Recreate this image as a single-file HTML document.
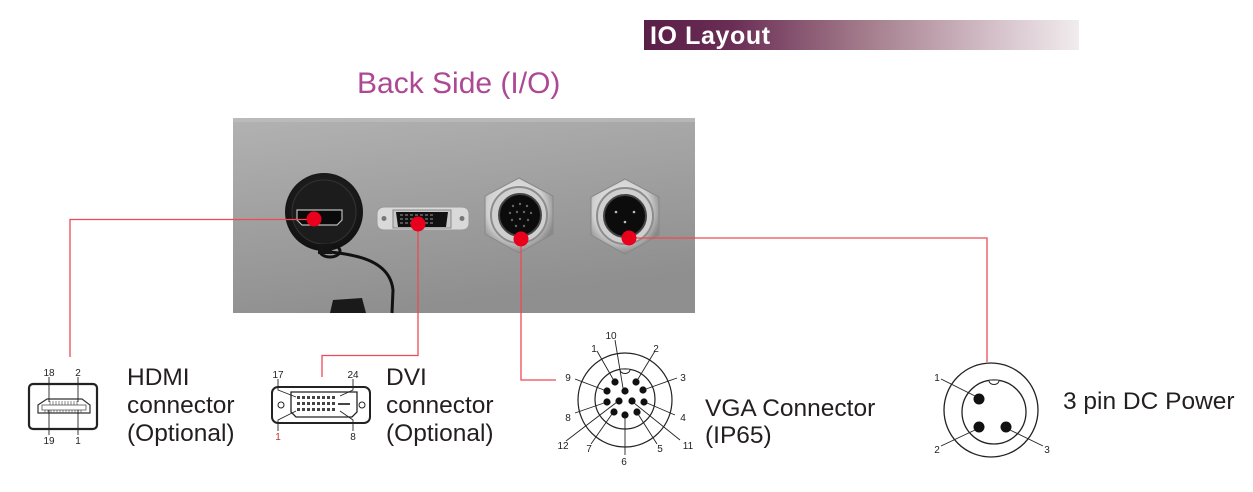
<!DOCTYPE html>
<html><head><meta charset="utf-8"><style>
html,body{margin:0;padding:0;background:#fff;}
svg{display:block;}
text{font-family:"Liberation Sans",Arial,sans-serif;}
</style></head><body>
<svg width="1253" height="492" viewBox="0 0 1253 492" xmlns="http://www.w3.org/2000/svg">
<defs>
<linearGradient id="hdr" x1="0" y1="0" x2="1" y2="0">
<stop offset="0" stop-color="#5a1f47"/>
<stop offset="0.2" stop-color="#6a2d55"/>
<stop offset="0.5" stop-color="#a27a8a"/>
<stop offset="0.8" stop-color="#d4bfc8"/>
<stop offset="1" stop-color="#f1ecee"/>
</linearGradient>
<linearGradient id="panel" x1="0" y1="0" x2="0.3" y2="1">
<stop offset="0" stop-color="#b2b2b2"/>
<stop offset="0.5" stop-color="#a0a0a0"/>
<stop offset="1" stop-color="#8f8f8f"/>
</linearGradient>
<radialGradient id="nut" cx="0.45" cy="0.4" r="0.6">
<stop offset="0" stop-color="#f2f2f2"/>
<stop offset="0.7" stop-color="#d0d0d0"/>
<stop offset="1" stop-color="#8a8a8a"/>
</radialGradient>
<radialGradient id="cap" cx="0.5" cy="0.4" r="0.6">
<stop offset="0" stop-color="#2a2a2a"/>
<stop offset="1" stop-color="#111"/>
</radialGradient>
</defs>

<!-- header -->
<rect x="644" y="20" width="435" height="30" fill="url(#hdr)"/>
<text x="650" y="44" font-size="25" font-weight="bold" fill="#fff" letter-spacing="0.6">IO Layout</text>

<text x="357" y="93" font-size="30" fill="#ad4894">Back Side (I/O)</text>

<!-- panel photo -->
<rect x="233" y="118" width="462" height="195" fill="url(#panel)"/>
<rect x="233" y="118" width="462" height="4" fill="#c4c4c4" opacity="0.5"/>

<!-- HDMI cap + cable -->
<path d="M330 252 C 360 255, 390 262, 393 290 L 392 313" stroke="#111" stroke-width="3" fill="none"/>
<path d="M333 300 L 362 298 L 366 313 L 330 313 Z" fill="#1a1a1a"/>
<circle cx="324" cy="212" r="39" fill="url(#cap)"/>
<circle cx="324" cy="212" r="32" fill="#1c1c1c" stroke="#333" stroke-width="1"/>
<ellipse cx="330" cy="251" rx="10" ry="6" fill="none" stroke="#111" stroke-width="3"/>
<rect x="318" y="244" width="14" height="10" fill="#151515"/>
<path d="M297 210 L342 210 L342 220 L337 225 L302 225 L297 220 Z" fill="#0a0a0a" stroke="#bbb" stroke-width="1.2"/>

<!-- DVI -->
<path d="M377 214 Q377 207 385 207 L461 207 Q469 207 469 214 L469 223 Q469 230 461 230 L385 230 Q377 230 377 223 Z" fill="#d9d9d9" stroke="#999" stroke-width="1"/>
<circle cx="384" cy="218.5" r="2.5" fill="#777"/>
<circle cx="462" cy="218.5" r="2.5" fill="#777"/>
<rect x="393" y="210" width="58" height="18" fill="#c8c8c8" stroke="#888" stroke-width="1"/>
<path d="M396 212 L448 212 L446 227 L398 227 Z" fill="#111"/>
<g fill="#555">
<rect x="400" y="214" width="3" height="2"/><rect x="405" y="214" width="3" height="2"/><rect x="410" y="214" width="3" height="2"/><rect x="415" y="214" width="3" height="2"/><rect x="420" y="214" width="3" height="2"/><rect x="425" y="214" width="3" height="2"/><rect x="430" y="214" width="3" height="2"/>
<rect x="400" y="218" width="3" height="2"/><rect x="405" y="218" width="3" height="2"/><rect x="410" y="218" width="3" height="2"/><rect x="415" y="218" width="3" height="2"/><rect x="420" y="218" width="3" height="2"/><rect x="425" y="218" width="3" height="2"/><rect x="430" y="218" width="3" height="2"/>
<rect x="400" y="222" width="3" height="2"/><rect x="405" y="222" width="3" height="2"/><rect x="410" y="222" width="3" height="2"/><rect x="415" y="222" width="3" height="2"/><rect x="420" y="222" width="3" height="2"/><rect x="425" y="222" width="3" height="2"/><rect x="430" y="222" width="3" height="2"/>
</g>

<!-- VGA nut -->
<polygon points="519,178 553,196 553,234 519,253 485,234 485,196" fill="url(#nut)" stroke="#888" stroke-width="1"/>
<circle cx="519" cy="215" r="28" fill="#cfcfcf" stroke="#8d8d8d" stroke-width="2"/>
<circle cx="520" cy="215" r="21" fill="#0c0c0c" stroke="#444" stroke-width="2"/>
<g fill="#666">
<circle cx="513" cy="206" r="1.2"/><circle cx="520" cy="204" r="1.2"/><circle cx="527" cy="206" r="1.2"/>
<circle cx="510" cy="213" r="1.2"/><circle cx="517" cy="212" r="1.2"/><circle cx="524" cy="212" r="1.2"/><circle cx="531" cy="213" r="1.2"/>
<circle cx="512" cy="220" r="1.2"/><circle cx="520" cy="219" r="1.2"/><circle cx="528" cy="220" r="1.2"/>
<circle cx="516" cy="226" r="1.2"/><circle cx="524" cy="226" r="1.2"/>
</g>

<!-- DC nut -->
<polygon points="625,179 659,197 659,235 625,254 591,235 591,197" fill="url(#nut)" stroke="#888" stroke-width="1"/>
<circle cx="625" cy="216" r="28" fill="#cfcfcf" stroke="#8d8d8d" stroke-width="2"/>
<circle cx="625" cy="216" r="21" fill="#0c0c0c" stroke="#444" stroke-width="2"/>
<g fill="#bbb">
<circle cx="616" cy="212" r="1.3"/><circle cx="634" cy="212" r="1.3"/><circle cx="625" cy="222" r="1.3"/>
</g>

<!-- red connectors -->
<g stroke="#ec4a55" stroke-width="1.3" fill="none">
<polyline points="314,219.5 70,219.5 70,357"/>
<polyline points="418,224 418,355.5 322,355.5 322,377"/>
<polyline points="521,239 521,380 556,380"/>
<polyline points="629,238 987,238 987,362"/>
</g>
<g fill="#e8001c">
<circle cx="314" cy="219" r="7.5"/>
<circle cx="418" cy="224" r="7.5"/>
<circle cx="521" cy="239" r="7.5"/>
<circle cx="629" cy="238" r="7.5"/>
</g>

<!-- HDMI diagram -->
<rect x="29" y="384" width="68" height="45" rx="4" fill="none" stroke="#222" stroke-width="2.2"/>
<path d="M47 399 L82 399 L90 405 L90 413 L38 413 L38 405 Z" fill="none" stroke="#333" stroke-width="1.2"/>
<rect x="42" y="405" width="44" height="5" fill="none" stroke="#555" stroke-width="0.8"/>
<g stroke="#555" stroke-width="0.7">
<path d="M50 401 V405 M53 401 V405 M56 401 V405 M59 401 V405 M62 401 V405 M65 401 V405 M68 401 V405 M71 401 V405 M74 401 V405 M77 401 V405"/>
<path d="M45 410 V413 M48 410 V413 M51 410 V413 M54 410 V413 M57 410 V413 M60 410 V413 M63 410 V413 M66 410 V413 M69 410 V413 M72 410 V413 M75 410 V413 M78 410 V413 M81 410 V413"/>
</g>
<g stroke="#222" stroke-width="0.9">
<line x1="49" y1="377" x2="49" y2="402"/><line x1="78" y1="377" x2="78" y2="402"/>
<line x1="49" y1="410" x2="49" y2="435"/><line x1="78" y1="410" x2="78" y2="435"/>
</g>
<g font-size="10" fill="#222" text-anchor="middle">
<text x="49" y="376">18</text><text x="78" y="376">2</text>
<text x="49" y="444">19</text><text x="78" y="444">1</text>
</g>
<g font-size="24.5" fill="#231f20">
<text x="127" y="385">HDMI</text>
<text x="127" y="413">connector</text>
<text x="127" y="441">(Optional)</text>
</g>

<!-- DVI diagram -->
<rect x="272" y="387" width="98" height="36" rx="6" fill="none" stroke="#222" stroke-width="2"/>
<circle cx="281" cy="405" r="3" fill="none" stroke="#222" stroke-width="1"/>
<circle cx="362" cy="405" r="3" fill="none" stroke="#222" stroke-width="1"/>
<path d="M291 392 L357 392 L357 412 L352 417 L296 417 L291 412 Z" fill="none" stroke="#222" stroke-width="1.3"/>
<g fill="#444">
<rect x="297" y="396" width="3" height="3"/><rect x="302" y="396" width="3" height="3"/><rect x="307" y="396" width="3" height="3"/><rect x="312" y="396" width="3" height="3"/><rect x="317" y="396" width="3" height="3"/><rect x="322" y="396" width="3" height="3"/><rect x="327" y="396" width="3" height="3"/><rect x="332" y="396" width="3" height="3"/>
<rect x="297" y="402" width="3" height="3"/><rect x="302" y="402" width="3" height="3"/><rect x="307" y="402" width="3" height="3"/><rect x="312" y="402" width="3" height="3"/><rect x="317" y="402" width="3" height="3"/><rect x="322" y="402" width="3" height="3"/><rect x="327" y="402" width="3" height="3"/><rect x="332" y="402" width="3" height="3"/>
<rect x="297" y="408" width="3" height="3"/><rect x="302" y="408" width="3" height="3"/><rect x="307" y="408" width="3" height="3"/><rect x="312" y="408" width="3" height="3"/><rect x="317" y="408" width="3" height="3"/><rect x="322" y="408" width="3" height="3"/><rect x="327" y="408" width="3" height="3"/><rect x="332" y="408" width="3" height="3"/>
<rect x="338" y="403" width="12" height="2"/>
</g>
<g stroke="#222" stroke-width="0.9" fill="none">
<polyline points="278,379 278,390 296,397"/>
<polyline points="353,379 353,390 340,396"/>
<polyline points="278,431 278,420 296,411"/>
<polyline points="353,431 353,420 340,411"/>
</g>
<g font-size="10" fill="#222" text-anchor="middle">
<text x="278" y="378">17</text><text x="353" y="378">24</text>
<text x="278" y="440" fill="#c0302a">1</text><text x="353" y="440">8</text>
</g>
<g font-size="24.5" fill="#231f20">
<text x="386" y="385">DVI</text>
<text x="386" y="413">connector</text>
<text x="386" y="441">(Optional)</text>
</g>

<!-- VGA diagram -->
<circle cx="625" cy="400" r="47" fill="none" stroke="#222" stroke-width="1.2"/>
<circle cx="625" cy="399" r="30" fill="none" stroke="#222" stroke-width="1.2"/>
<path d="M620 369.5 A5 4 0 0 0 630 369.5" fill="#fff" stroke="#222" stroke-width="1"/>
<g fill="#111">
<circle cx="615" cy="382" r="3.6"/><circle cx="636" cy="382" r="3.6"/>
<circle cx="607" cy="391" r="3.6"/><circle cx="625" cy="391" r="3.6"/><circle cx="643" cy="390" r="3.6"/>
<circle cx="607" cy="402" r="3.6"/><circle cx="619" cy="401" r="3.6"/><circle cx="632" cy="401" r="3.6"/><circle cx="644" cy="402" r="3.6"/>
<circle cx="614" cy="412" r="3.6"/><circle cx="625" cy="415" r="3.6"/><circle cx="637" cy="412" r="3.6"/>
</g>
<g stroke="#222" stroke-width="0.9">
<line x1="615" y1="340" x2="623" y2="388"/>
<line x1="597" y1="351" x2="613" y2="379"/>
<line x1="655" y1="351" x2="638" y2="379"/>
<line x1="575" y1="379" x2="604" y2="390"/>
<line x1="677" y1="378" x2="646" y2="389"/>
<line x1="575" y1="413" x2="604" y2="403"/>
<line x1="675" y1="415" x2="647" y2="403"/>
<line x1="566" y1="441" x2="617" y2="402"/>
<line x1="591" y1="444" x2="612" y2="414"/>
<line x1="657" y1="444" x2="638" y2="414"/>
<line x1="680" y1="440" x2="634" y2="403"/>
<line x1="625" y1="455" x2="625" y2="417"/>
</g>
<g font-size="10" fill="#222" text-anchor="middle">
<text x="611" y="339">10</text>
<text x="594" y="352">1</text><text x="656" y="352">2</text>
<text x="568" y="381">9</text><text x="683" y="381">3</text>
<text x="568" y="421">8</text><text x="683" y="421">4</text>
<text x="563" y="449">12</text><text x="589" y="452">7</text>
<text x="660" y="452">5</text><text x="688" y="449">11</text>
<text x="624" y="465">6</text>
</g>
<g font-size="24.5" fill="#231f20">
<text x="705" y="416">VGA Connector</text>
<text x="705" y="443">(IP65)</text>
</g>

<!-- DC diagram -->
<circle cx="991" cy="410" r="47" fill="none" stroke="#222" stroke-width="1.3"/>
<circle cx="994" cy="412" r="32" fill="none" stroke="#222" stroke-width="1.3"/>
<path d="M989 380.5 A5 4 0 0 0 999 380.5" fill="#fff" stroke="#222" stroke-width="1"/>
<g fill="#111">
<circle cx="979" cy="399" r="5.5"/><circle cx="979" cy="427" r="5.5"/><circle cx="1006" cy="427" r="5.5"/>
</g>
<g stroke="#222" stroke-width="0.9">
<line x1="941" y1="379" x2="975" y2="396"/>
<line x1="941" y1="446" x2="975" y2="430"/>
<line x1="1043" y1="446" x2="1010" y2="430"/>
</g>
<g font-size="10" fill="#222" text-anchor="middle">
<text x="937" y="381">1</text><text x="937" y="453">2</text><text x="1047" y="453">3</text>
</g>
<text x="1063" y="409" font-size="24.5" fill="#231f20">3 pin DC Power</text>
</svg>
</body></html>
